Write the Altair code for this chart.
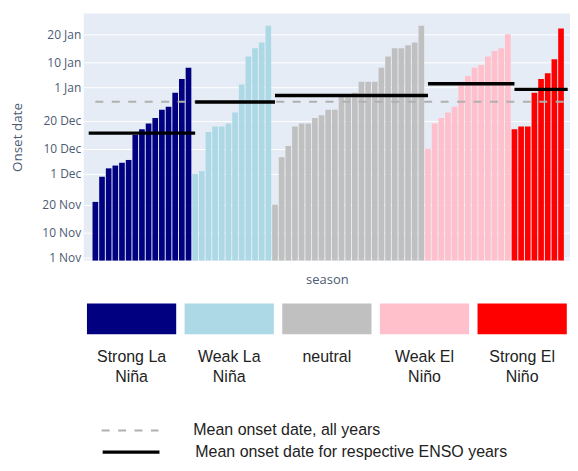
import json
import altair as alt
import pandas as pd

# ENSO phases and their colours
PHASES = ["Strong La Niña", "Weak La Niña", "neutral", "Weak El Niño", "Strong El Niño"]
PHASE_COLORS = ["#000080", "#ADD8E6", "#C0C0C0", "#FFC0CB", "#FF0000"]

# Onset date per season, as days after 1 Nov (sorted within each phase)
STRONG_LA_NINA = [20, 29, 32, 33, 34, 35, 44, 46, 48, 50, 53, 54, 59, 64, 68]
WEAK_LA_NINA = [30, 31, 45, 47, 47, 48, 52, 62, 72, 75, 77, 83]
NEUTRAL = [19, 36, 40, 47, 48, 48, 50, 51, 53, 53, 58, 58, 59, 63, 63, 63, 68, 72, 75, 75, 76, 77, 83]
WEAK_EL_NINO = [39, 48, 50, 52, 54, 63, 65, 68, 69, 72, 74, 75, 80]
STRONG_EL_NINO = [46, 47, 47, 59, 64, 66, 71, 82]
SERIES = [STRONG_LA_NINA, WEAK_LA_NINA, NEUTRAL, WEAK_EL_NINO, STRONG_EL_NINO]

# y axis ticks (days after 1 Nov) and their labels
TICK_DAYS = [0, 9, 19, 30, 39, 49, 61, 70, 80]
TICK_LABELS = ["1 Nov", "10 Nov", "20 Nov", "1 Dec", "10 Dec", "20 Dec", "1 Jan", "10 Jan", "20 Jan"]

ALL_MEAN_LABEL = "Mean onset date, all years"
ENSO_MEAN_LABEL = "Mean onset date for respective ENSO years"

Y_MIN, Y_MAX = -1, 87.4
X_MAX = 71.6

FONT = "Open Sans"
LEGEND_FONT = "Liberation Sans"
AXIS_COLOR = "#4c5b73"
ALL_COLOR = "#b0b0b0"
ENSO_COLOR = "#000000"

# ---- tables ----
rows = []
idx = 1
enso_rows = []
for p, (phase, vals) in enumerate(zip(PHASES, SERIES)):
    first = idx
    for v in vals:
        rows.append({"i": idx, "phase": phase, "day": v})
        idx += 1
    last = idx - 1
    enso_rows.append({"kind": ENSO_MEAN_LABEL, "x0": 0 if p == 0 else first,
                      "x1": last + 1, "day": sum(vals) / len(vals)})
bars_df = pd.DataFrame(rows)
enso_df = pd.DataFrame(enso_rows)
all_vals = [v for s in SERIES for v in s]
all_df = pd.DataFrame([{"kind": ALL_MEAN_LABEL, "x0": 1, "x1": len(all_vals) + 1,
                        "day": sum(all_vals) / len(all_vals)}])

xscale = alt.Scale(domain=[0, X_MAX], nice=False, zero=False)
yscale = alt.Scale(domain=[Y_MIN, Y_MAX], nice=False, zero=False, clamp=True)

label_expr = "{}[indexof({}, datum.value)]".format(json.dumps(TICK_LABELS), json.dumps(TICK_DAYS))

xaxis = alt.Axis(title="season", labels=False, ticks=False, domain=False, grid=False,
                 titleFont=FONT, titleFontSize=13, titleFontWeight="normal",
                 titleColor=AXIS_COLOR, titlePadding=13)
yaxis = alt.Axis(title="Onset date", values=TICK_DAYS, labelExpr=label_expr,
                 labelFont=FONT, labelFontSize=12, labelColor=AXIS_COLOR,
                 titleFont=FONT, titleFontSize=13.5, titleFontWeight="normal",
                 titleColor=AXIS_COLOR, titlePadding=17, labelPadding=3,
                 ticks=False, domain=False, grid=True, gridColor="white", gridWidth=1)

bars = alt.Chart(bars_df).mark_bar(size=5.7).encode(
    x=alt.X("i:Q", scale=xscale, axis=xaxis),
    y=alt.Y("day:Q", scale=yscale, axis=yaxis),
    y2=alt.datum(Y_MIN),
    color=alt.Color("phase:N", scale=alt.Scale(domain=PHASES, range=PHASE_COLORS), legend=None),
)


def line_legend(y, color, width):
    return alt.Legend(title=None, orient="none", legendX=17, legendY=y,
                      symbolType="stroke", symbolSize=3249,
                      symbolStrokeColor=color, symbolStrokeWidth=width,
                      labelFont=LEGEND_FONT, labelFontSize=16, labelColor="#222222",
                      labelOffset=34, padding=0, labelLimit=600)


all_rule = alt.Chart(all_df).mark_rule(clip=True, strokeWidth=2).encode(
    x=alt.X("x0:Q", scale=xscale, axis=xaxis),
    x2="x1:Q",
    y=alt.Y("day:Q", scale=yscale, axis=yaxis),
    color=alt.value(ALL_COLOR),
    strokeDash=alt.StrokeDash("kind:N", scale=alt.Scale(domain=[ALL_MEAN_LABEL], range=[[8, 8.5]]),
                              legend=line_legend(389, ALL_COLOR, 2)),
)

enso_rules = alt.Chart(enso_df).mark_rule(clip=True, strokeWidth=3.5).encode(
    x=alt.X("x0:Q", scale=xscale, axis=xaxis),
    x2="x1:Q",
    y=alt.Y("day:Q", scale=yscale, axis=yaxis),
    stroke=alt.Stroke("kind:N", scale=alt.Scale(domain=[ENSO_MEAN_LABEL], range=[ENSO_COLOR]),
                      legend=line_legend(409.7, ENSO_COLOR, 3.5)),
)

main = alt.layer(bars, all_rule, enso_rules).properties(
    width=488, height=248,
    view=alt.ViewBackground(fill="#E5ECF6", strokeWidth=0),
)

split_expr = ("lastindexof(datum.label, ' ') > 0 ? "
              "[slice(datum.label, 0, lastindexof(datum.label, ' ')), "
              "slice(datum.label, lastindexof(datum.label, ' ') + 1)] : datum.label")

swatch = alt.Chart(pd.DataFrame({"phase": PHASES})).mark_rect().encode(
    x=alt.X("phase:N", sort=PHASES,
            scale=alt.Scale(paddingInner=0.086, paddingOuter=0.033),
            axis=alt.Axis(title=None, domain=False, ticks=False, labelAngle=0,
                          labelFont=LEGEND_FONT, labelFontSize=16,
                          labelColor="#222222", labelPadding=14, labelLineHeight=20,
                          labelExpr=split_expr, labelLimit=200)),
    color=alt.Color("phase:N", scale=alt.Scale(domain=PHASES, range=PHASE_COLORS), legend=None),
).properties(width=488, height=31, view=alt.ViewBackground(strokeWidth=0))

chart = alt.vconcat(main, swatch, spacing=43, bounds="flush").properties(
    padding={"left": 2, "top": 4.7, "right": 0, "bottom": 0}
).configure_view(strokeWidth=0)

chart.save("out.html", embed_options={"renderer": "svg", "actions": False})
